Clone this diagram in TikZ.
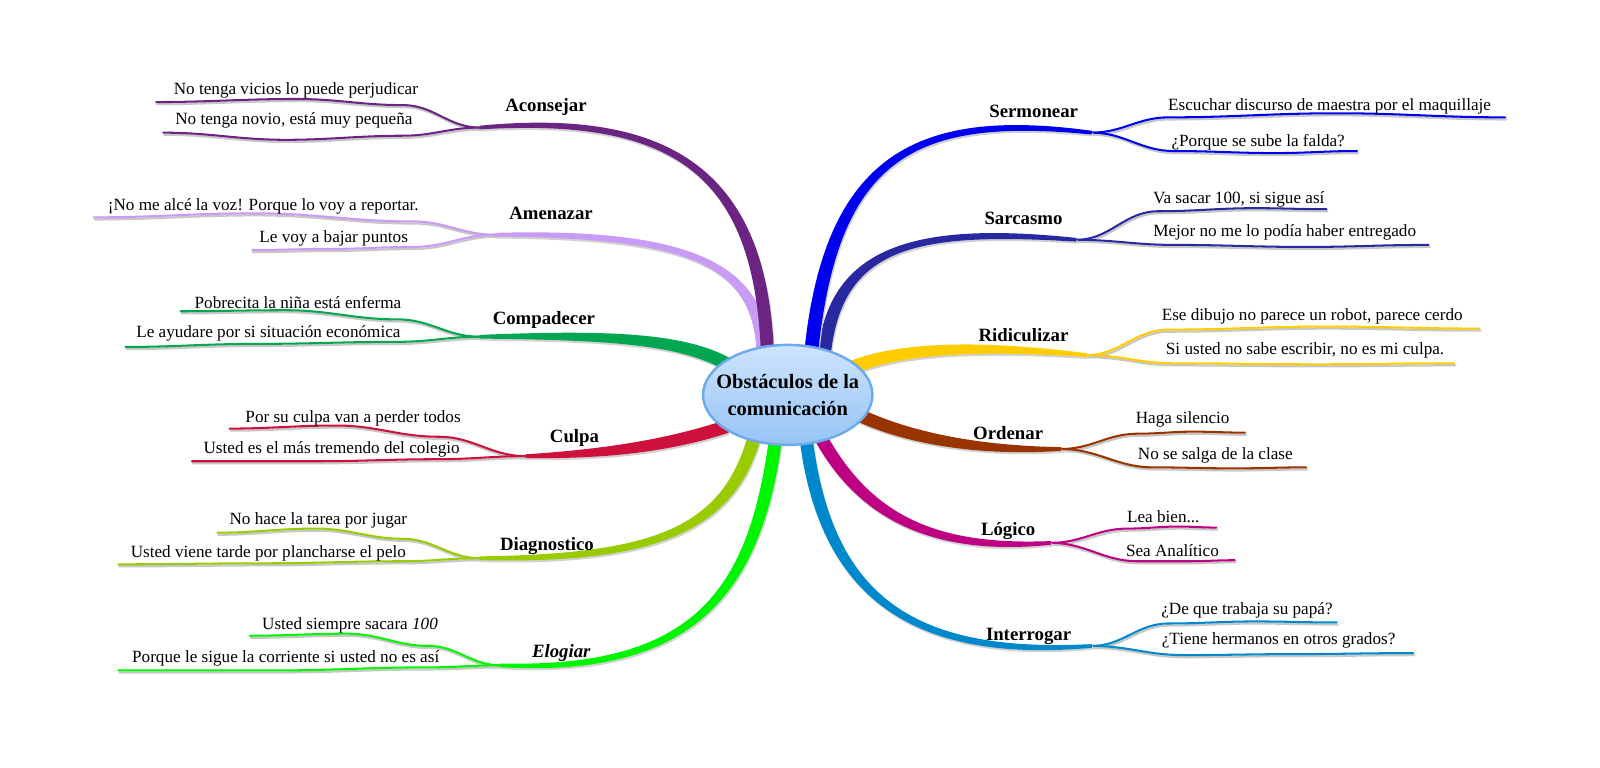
\documentclass[tikz,border=0pt]{standalone}
\usepackage{fontspec}
\setmainfont{Liberation Serif}
\usetikzlibrary{calc,shapes.geometric}
\definecolor{cAcons}{RGB}{107,36,130}
\definecolor{cAmen}{RGB}{200,155,245}
\definecolor{cComp}{RGB}{0,166,80}
\definecolor{cCulpa}{RGB}{205,17,60}
\definecolor{cDiag}{RGB}{153,204,0}
\definecolor{cElog}{RGB}{0,245,0}
\definecolor{cSerm}{RGB}{0,0,240}
\definecolor{cSarc}{RGB}{40,40,160}
\definecolor{cRidi}{RGB}{255,204,0}
\definecolor{cOrde}{RGB}{153,51,0}
\definecolor{cLogi}{RGB}{190,0,130}
\definecolor{cInte}{RGB}{0,136,204}
\definecolor{ellEdge}{RGB}{110,170,235}
\definecolor{ellTop}{RGB}{205,228,252}
\definecolor{ellBot}{RGB}{150,196,246}
\tikzset{
  leaftext/.style={font=\fontsize{8.4}{9}\selectfont, inner sep=0pt},
  lbl/.style={font=\fontsize{9.2}{10}\selectfont\bfseries, inner sep=0pt},
  leafline/.style={line width=1pt, line cap=round},
  leafshadow/.style={line width=1.1pt, line cap=round, draw=black!22, transform canvas={shift={(0.5pt,-1pt)}}},
  mainshadow/.style={fill=black!18, transform canvas={shift={(0.5pt,-1pt)}}},
}
% tapered main branch: color, P0, P1, P2, P3, half width at P0/P1, at P2, at P3
\newcommand\mainbranch[8]{%
  \fill[mainshadow] ($(#2)!#6!90:(#3)$) .. controls ($(#3)!#6!-90:(#2)$) and ($(#4)!#7!90:(#5)$) .. ($(#5)!#8!-90:(#4)$) -- ($(#5)!#8!90:(#4)$) .. controls ($(#4)!#7!-90:(#5)$) and ($(#3)!#6!90:(#2)$) .. ($(#2)!#6!-90:(#3)$) -- cycle;
  \fill[#1] ($(#2)!#6!90:(#3)$) .. controls ($(#3)!#6!-90:(#2)$) and ($(#4)!#7!90:(#5)$) .. ($(#5)!#8!-90:(#4)$) -- ($(#5)!#8!90:(#4)$) .. controls ($(#4)!#7!-90:(#5)$) and ($(#3)!#6!90:(#2)$) .. ($(#2)!#6!-90:(#3)$) -- cycle;
}
\newcommand\leafL[5]{%
  \draw[leafshadow] (#2) to[out=180,in=0] (#3) to[out=180,in=0] (#4) to[out=180,in=0] (#5);
  \draw[leafline,#1] (#2) to[out=180,in=0] (#3) to[out=180,in=0] (#4) to[out=180,in=0] (#5);}
\newcommand\leafR[5]{%
  \draw[leafshadow] (#2) to[out=0,in=180] (#3) to[out=0,in=180] (#4) to[out=0,in=180] (#5);
  \draw[leafline,#1] (#2) to[out=0,in=180] (#3) to[out=0,in=180] (#4) to[out=0,in=180] (#5);}
\begin{document}
\begin{tikzpicture}[x=0.5pt,y=-0.5pt]
\useasboundingbox (0,0) rectangle (1568,752);
% start points (inside the central ellipse) and fork points
\coordinate (sA) at (752,345); \coordinate (fA) at (470,125);
\coordinate (sB) at (748,348); \coordinate (fB) at (485,230);
\coordinate (sC) at (715,358); \coordinate (fC) at (470,330);
\coordinate (sD) at (712,418); \coordinate (fD) at (515,447);
\coordinate (sE) at (740,425); \coordinate (fE) at (470,547);
\coordinate (sF) at (760,430); \coordinate (fF) at (490,652);
\coordinate (sG) at (795,345); \coordinate (fG) at (1070,130);
\coordinate (sH) at (808,345); \coordinate (fH) at (1055,235);
\coordinate (sI) at (830,362); \coordinate (fI) at (1065,348);
\coordinate (sJ) at (838,405); \coordinate (fJ) at (1040,440);
\coordinate (sK) at (805,430); \coordinate (fK) at (1030,532);
\coordinate (sL) at (790,430); \coordinate (fL) at (1070,633);
% leaf ends
\coordinate (eA1) at (153,100); \coordinate (eA2) at (160,130);
\coordinate (eB1) at (92,213);  \coordinate (eB2) at (247,245);
\coordinate (eC1) at (177,305); \coordinate (eC2) at (123,340);
\coordinate (eD1) at (225,420); \coordinate (eD2) at (188,452);
\coordinate (eE1) at (213,522); \coordinate (eE2) at (116,553);
\coordinate (eF1) at (245,623); \coordinate (eF2) at (116,657);
\coordinate (eG1) at (1475,115); \coordinate (eG2) at (1330,148);
\coordinate (eH1) at (1300,205); \coordinate (eH2) at (1400,240);
\coordinate (eI1) at (1450,322); \coordinate (eI2) at (1425,356);
\coordinate (eJ1) at (1220,424); \coordinate (eJ2) at (1280,458);
\coordinate (eK1) at (1192,517); \coordinate (eK2) at (1210,549);
\coordinate (eL1) at (1310,610); \coordinate (eL2) at (1385,640);

% leaf connectors
\leafL{cAcons}{fA}{395,103}{290,97}{eA1}
\leafL{cAcons}{fA}{395,133}{280,137}{eA2}
\leafL{cAmen}{fB}{405,217}{250,209}{eB1}
\leafL{cAmen}{fB}{405,242}{320,244}{eB2}
\leafL{cComp}{fC}{390,313}{280,304}{eC1}
\leafL{cComp}{fC}{390,335}{250,337}{eC2}
\leafL{cCulpa}{fD}{430,428}{330,417}{eD1}
\leafL{cCulpa}{fD}{430,450}{310,452}{eD2}
\leafL{cDiag}{fE}{395,528}{310,518}{eE1}
\leafL{cDiag}{fE}{395,550}{260,552}{eE2}
\leafL{cElog}{fF}{420,633}{340,621}{eF1}
\leafL{cElog}{fF}{420,654}{270,657}{eF2}
\leafR{cSerm}{fG}{1145,115}{1310,111}{eG1}
\leafR{cSerm}{fG}{1150,148}{1250,150}{eG2}
\leafR{cSarc}{fH}{1135,207}{1230,204}{eH1}
\leafR{cSarc}{fH}{1150,240}{1280,242}{eH2}
\leafR{cRidi}{fI}{1145,323}{1300,320}{eI1}
\leafR{cRidi}{fI}{1150,356}{1290,357}{eI2}
\leafR{cOrde}{fJ}{1115,425}{1170,423}{eJ1}
\leafR{cOrde}{fJ}{1130,458}{1210,459}{eJ2}
\leafR{cLogi}{fK}{1105,518}{1155,516}{eK1}
\leafR{cLogi}{fK}{1115,550}{1165,550}{eK2}
\leafR{cInte}{fL}{1145,611}{1230,609}{eL1}
\leafR{cInte}{fL}{1160,642}{1270,641}{eL2}

% main branches
\mainbranch{cAmen}{sB}{745,260}{680,228}{fB}{3.2pt}{2.6pt}{0.9pt}
\mainbranch{cAcons}{sA}{745,170}{660,110}{fA}{3.2pt}{2.6pt}{0.9pt}
\mainbranch{cComp}{sC}{670,332}{600,328}{fC}{3.2pt}{2.6pt}{0.9pt}
\mainbranch{cCulpa}{sD}{660,435}{600,445}{fD}{3.2pt}{2.6pt}{0.9pt}
\mainbranch{cDiag}{sE}{715,520}{640,548}{fE}{3.2pt}{2.6pt}{0.9pt}
\mainbranch{cElog}{sF}{740,580}{680,660}{fF}{3.2pt}{2.6pt}{0.9pt}
\mainbranch{cSarc}{sH}{820,240}{900,222}{fH}{3.2pt}{2.6pt}{0.9pt}
\mainbranch{cSerm}{sG}{815,150}{900,110}{fG}{3.4pt}{2.6pt}{0.9pt}
\mainbranch{cRidi}{sI}{880,340}{960,338}{fI}{3.2pt}{2.6pt}{0.9pt}
\mainbranch{cOrde}{sJ}{890,430}{960,442}{fJ}{3.2pt}{2.6pt}{0.9pt}
\mainbranch{cLogi}{sK}{850,510}{920,540}{fK}{3.2pt}{2.6pt}{0.9pt}
\mainbranch{cInte}{sL}{810,590}{900,645}{fL}{3.2pt}{2.6pt}{0.9pt}

% central node
\node[ellipse, draw=ellEdge, line width=1.2pt, top color=ellTop, bottom color=ellBot,
      minimum width=83pt, minimum height=49pt, inner sep=0pt] (ctr) at (772,387) {};
\node[align=center, inner sep=0pt, font=\fontsize{10}{13}\selectfont\bfseries] (ctrtext) at (ctr.center)
      {Obstáculos de la\\comunicación};

% labels
\node[lbl] (lA) at (535,105) {Aconsejar};
\node[lbl] (lB) at (540,209) {Amenazar};
\node[lbl] (lC) at (533,314) {Compadecer};
\node[lbl] (lD) at (563,429) {Culpa};
\node[lbl] (lE) at (536,535) {Diagnostico};
\node[lbl, font=\fontsize{9.2}{10}\selectfont\bfseries\itshape] (lF) at (550,640) {Elogiar};
\node[lbl] (lG) at (1013,109) {Sermonear};
\node[lbl] (lH) at (1003,214) {Sarcasmo};
\node[lbl] (lI) at (1003,328) {Ridiculizar};
\node[lbl] (lJ) at (988,424) {Ordenar};
\node[lbl] (lK) at (988,520) {Lógico};
\node[lbl] (lL) at (1008,624) {Interrogar};

% leaf texts
\node[leaftext] (tA1) at (290,89) {No tenga vicios lo puede perjudicar};
\node[leaftext] (tA2) at (288,118) {No tenga novio, está muy pequeña};
\node[leaftext] (tB1) at (258,202) {¡No me alcé la voz! Porque lo voy a reportar.};
\node[leaftext] (tB2) at (327,234) {Le voy a bajar puntos};
\node[leaftext] (tC1) at (292,296) {Pobrecita la niña está enferma};
\node[leaftext] (tC2) at (263,327) {Le ayudare por si situación económica};
\node[leaftext] (tD1) at (346,410) {Por su culpa van a perder todos};
\node[leaftext] (tD2) at (325,440) {Usted es el más tremendo del colegio};
\node[leaftext] (tE1) at (312,510) {No hace la tarea por jugar};
\node[leaftext] (tE2) at (263,542) {Usted viene tarde por plancharse el pelo};
\node[leaftext] (tF1) at (343,613) {Usted siempre sacara \textit{100}};
\node[leaftext] (tF2) at (280,645) {Porque le sigue la corriente si usted no es así};
\node[leaftext] (tG1) at (1303,104) {Escuchar discurso de maestra por el maquillaje};
\node[leaftext] (tG2) at (1233,139) {¿Porque se sube la falda?};
\node[leaftext] (tH1) at (1214,195) {Va sacar 100, si sigue así};
\node[leaftext] (tH2) at (1259,228) {Mejor no me lo podía haber entregado};
\node[leaftext] (tI1) at (1286,310) {Ese dibujo no parece un robot, parece cerdo};
\node[leaftext] (tI2) at (1279,343) {Si usted no sabe escribir, no es mi culpa.};
\node[leaftext] (tJ1) at (1159,411) {Haga silencio};
\node[leaftext] (tJ2) at (1191,446) {No se salga de la clase};
\node[leaftext] (tK1) at (1140,506) {Lea bien...};
\node[leaftext] (tK2) at (1149,540) {Sea Analítico};
\node[leaftext] (tL1) at (1222,598) {¿De que trabaja su papá?};
\node[leaftext] (tL2) at (1253,628) {¿Tiene hermanos en otros grados?};
\end{tikzpicture}
\end{document}
